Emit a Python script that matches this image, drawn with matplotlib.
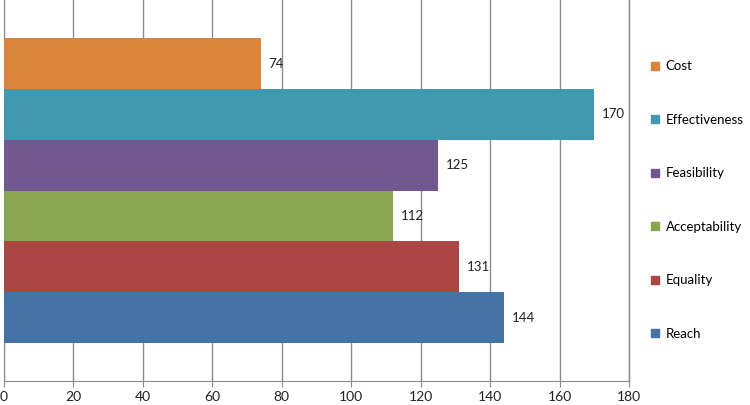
import matplotlib
matplotlib.use("Agg")
import matplotlib.pyplot as plt
from matplotlib.lines import Line2D

plt.rcParams['font.family'] = ['Lato', 'DejaVu Sans']

categories = ["Reach", "Equality", "Acceptability", "Feasibility", "Effectiveness", "Cost"]
values = [144, 131, 112, 125, 170, 74]
colors = ["#4572A7", "#AA4643", "#89A54E", "#71588F", "#4198AF", "#DB843D"]
xticks = [0, 20, 40, 60, 80, 100, 120, 140, 160, 180]

fig = plt.figure(figsize=(7.5, 4.05), dpi=100)
ax = fig.add_axes([4/750, 24/405, 625/750, 381/405])

ypos = list(range(len(categories)))
ax.barh(ypos, values, height=1.0, color=colors, zorder=3)
for y, v in zip(ypos, values):
    ax.text(v + 2.2, y, str(v), va='center', ha='left', fontsize=9.5, color='#222222', zorder=4)

ax.set_xlim(0, 180)
ax.set_ylim(-1.25, 6.25)
ax.set_xticks(xticks)
ax.set_xticklabels([str(t) for t in xticks], fontsize=10, color='#222222')
ax.set_yticks([])
ax.grid(axis='x', color='#8c8c8c', linewidth=1.0, zorder=0)
ax.axvline(180, color='#8c8c8c', linewidth=1.0, zorder=0, clip_on=False)
for s in ['top', 'right']:
    ax.spines[s].set_visible(False)
ax.spines['left'].set_color('#8c8c8c')
ax.spines['bottom'].set_color('#8c8c8c')
ax.tick_params(axis='x', direction='out', length=4, color='#8c8c8c', pad=3)

handles = [Line2D([], [], marker='s', linestyle='none', markersize=6,
                  markerfacecolor=c, markeredgecolor=c) for c in colors[::-1]]
fig.legend(handles, categories[::-1], loc='center left', bbox_to_anchor=(644/750, 0.506),
           frameon=False, fontsize=9.5, labelspacing=3.14, handlelength=0.8,
           handletextpad=0.45, borderaxespad=0)

fig.savefig("out.png", dpi=100)
